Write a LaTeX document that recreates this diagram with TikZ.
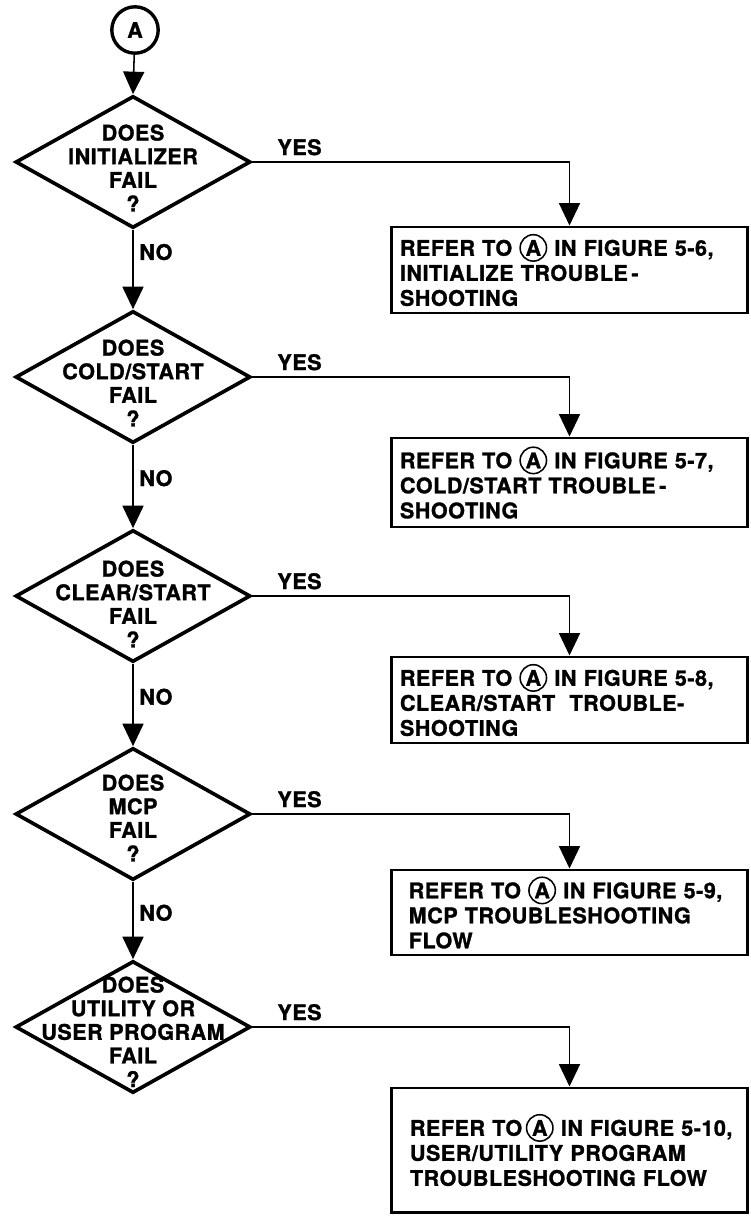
\documentclass[tikz,border=0pt]{standalone}
\usepackage{fontspec}
\setmainfont{TeX Gyre Heros}[LetterSpace=2.5, BoldFeatures={FakeBold=1.3}]
\usepackage{tikz}
\usetikzlibrary{arrows.meta}
\usetikzlibrary{shapes}
\usetikzlibrary{positioning}

\tikzset{
  decision/.style={draw, diamond, line width=2.6pt, minimum width=5.875cm, minimum height=3.3cm, inner sep=0pt},
  qtext/.style={align=center, inner sep=0pt, font=\fontsize{15.3}{16.8}\selectfont\bfseries},
  refbox/.style={draw, rectangle, line width=2.1pt, minimum width=8.875cm, inner xsep=0.2cm, text width=8.475cm, align=left, font=\fontsize{15.3}{17.8}\selectfont\bfseries},
  lbl/.style={inner sep=0pt, font=\fontsize{15.3}{16}\selectfont\bfseries},
  link/.style={line width=1.1pt, -{Triangle[width=15pt,length=16pt]}},
  circ/.style={circle, draw, line width=1.1pt, inner sep=1.1pt, minimum size=0pt, text width=, anchor=center}
}
\newcommand{\circA}{\tikz[baseline=(ca.base)]\node[circ] (ca) {A};}

\begin{document}
\begin{tikzpicture}[x=0.025cm, y=0.025cm]
\useasboundingbox (0,0) rectangle (750,-1220);
% Start connector (node)
\node[draw, circle, line width=2.4pt, minimum size=1.16cm, inner sep=0pt, font=\fontsize{15.3}{16}\selectfont\bfseries] (start) at (135,-30) {A};
% Decisions (nodes)
\node[decision] (d1) at (133,-162) {};
\node[decision] (d2) at (133,-377) {};
\node[decision] (d3) at (133,-596) {};
\node[decision] (d4) at (133,-814) {};
\node[decision] (d5) at (133,-1027) {};
% Decision texts
\node[qtext] (q1) at ([yshift=-0.15cm]d1.center) {DOES\\INITIALIZER\\FAIL\\?};
\node[qtext] (q2) at ([yshift=-0.15cm]d2.center) {DOES\\COLD/START\\FAIL\\?};
\node[qtext] (q3) at ([yshift=-0.2cm]d3.center) {DOES\\CLEAR/START\\FAIL\\?};
\node[qtext] (q4) at ([yshift=-0.1cm]d4.center) {DOES\\MCP\\FAIL\\?};
\node[qtext] (q5) at ([yshift=-0.12cm]d5.center) {DOES\\UTILITY OR\\USER PROGRAM\\FAIL\\?};
% Reference boxes (nodes)
\node[refbox, minimum height=2.15cm] (b1) at (569.5,-270) {\mbox{REFER TO \circA\ IN FIGURE 5-6,}\\INITIALIZE TROUBLE\,-\\SHOOTING};
\node[refbox, minimum height=2.225cm] (b2) at (569.5,-482.5) {\mbox{REFER TO \circA\ IN FIGURE 5-7,}\\COLD/START TROUBLE\,-\\SHOOTING};
\node[refbox, minimum height=2.15cm] (b3) at (569.5,-700) {\mbox{REFER TO \circA\ IN FIGURE 5-8,}\\CLEAR/START~~TROUBLE-\\SHOOTING};
\node[refbox, minimum height=2.125cm, inner xsep=0.42cm, text width=8.035cm] (b4) at (569.5,-912.5) {\mbox{REFER TO \circA\ IN FIGURE 5-9,}\\MCP TROUBLESHOOTING\\FLOW};
\node[refbox, minimum height=3.1cm, inner xsep=0.45cm, text width=7.975cm] (b5) at (569.5,-1150) {\mbox{REFER TO\,\circA\ IN FIGURE 5-10,}\\USER/UTILITY PROGRAM\\TROUBLESHOOTING FLOW};
% YES labels
\node[lbl, above right=0.16cm and 0.62cm of d1.east] (y1) {YES};
\node[lbl, above right=0.16cm and 0.62cm of d2.east] (y2) {YES};
\node[lbl, above right=0.16cm and 0.62cm of d3.east] (y3) {YES};
\node[lbl, above right=0.16cm and 0.62cm of d4.east] (y4) {YES};
\node[lbl, above right=0.16cm and 0.62cm of d5.east] (y5) {YES};
% Main line with NO branches
\draw[link] (start) -- (d1.north);
\draw[link] (d1.south) -- node[lbl, right=4pt, pos=0.28] (n1) {NO} (d2.north);
\draw[link] (d2.south) -- node[lbl, right=4pt, pos=0.4] (n2) {NO} (d3.north);
\draw[link] (d3.south) -- node[lbl, right=4pt, pos=0.4] (n3) {NO} (d4.north);
\draw[link] (d4.south) -- node[lbl, right=4pt, pos=0.4] (n4) {NO} (d5.north);
% YES branches to boxes
\draw[link] (d1.east) -| (b1.north);
\draw[link] (d2.east) -| (b2.north);
\draw[link] (d3.east) -| (b3.north);
\draw[link] (d4.east) -| (b4.north);
\draw[link] (d5.east) -| (b5.north);
\end{tikzpicture}
\end{document}
